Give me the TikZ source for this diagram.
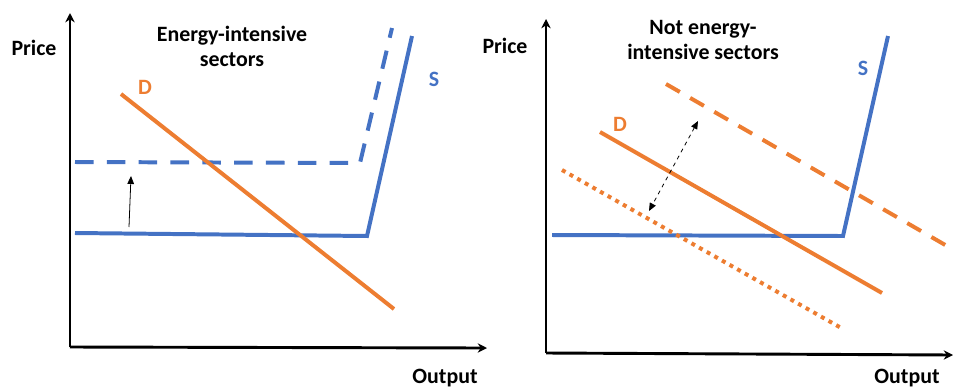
\documentclass[tikz,border=0pt]{standalone}
\usepackage{fontspec}
\setmainfont{Carlito}
\usetikzlibrary{arrows.meta,positioning}
\definecolor{SB}{RGB}{68,114,196}
\definecolor{DO}{RGB}{237,125,49}
\tikzset{
  % axes
  axis/.style={draw=black, line width=2.2pt, -{Stealth[length=7pt,width=7pt]}},
  % curves
  supply/.style={draw=SB, line width=3pt, line join=miter},
  supplyup/.style={supply, dash pattern=on 14pt off 10pt},
  demand/.style={draw=DO, line width=3pt},
  demandup/.style={demand, dash pattern=on 12pt off 9pt},
  demanddown/.style={demand, dash pattern=on 3pt off 3.6pt},
  % shift arrows
  moveup/.style={draw=black, line width=0.6pt, -{Triangle[length=6pt,width=5pt]}},
  moveboth/.style={moveup, dashed, {Triangle[length=6pt,width=5pt]}-{Triangle[length=6pt,width=5pt]}},
  % labels
  lbl/.style={font=\fontsize{16.5}{19}\selectfont\bfseries, align=center, inner sep=0pt},
  slbl/.style={lbl, text=SB},
  dlbl/.style={lbl, text=DO},
}
\begin{document}
\begin{tikzpicture}[x=0.0265cm, y=-0.0265cm]
\useasboundingbox (0,0) rectangle (953,389);

% ── Left panel: energy-intensive sectors ─────────────────────────────────────
\coordinate (lO) at (70,347);
\coordinate (lY) at (70,13);
\coordinate (lX) at (487,348);
\draw[axis] (lO) -- (lY);
\draw[axis] (lO) -- (lX);

\node[lbl] (lP) at (34,48) {Price};
\node[lbl] (lQ) at (445,378) {Output};
\node[lbl] (lT) at (232,46) {Energy-intensive\\sectors};

\coordinate (lS0) at (75,233);
\coordinate (lS1) at (367,236);
\coordinate (lS2) at (412,36);
\coordinate (lU0) at (75,162);
\coordinate (lU1) at (360,163);
\coordinate (lU2) at (392,28);
\coordinate (lD0) at (121,94);
\coordinate (lD1) at (394,309);

\draw[supplyup] (lU0) -- (lU1) -- (lU2);
\draw[supply] (lS0) -- (lS1) -- (lS2);
\draw[demand] (lD0) -- (lD1);

\node[slbl] (lSl) at (434,79) {S};
\node[dlbl] (lDl) at (145,87) {D};

\coordinate (lA0) at (129,227);
\coordinate (lA1) at (131,176);
\draw[moveup] (lA0) -- (lA1);

% ── Right panel: not energy-intensive sectors ────────────────────────────────
\coordinate (rO) at (546,353);
\coordinate (rY) at (546,19);
\coordinate (rX) at (953,355);
\draw[axis] (rO) -- (rY);
\draw[axis] (rO) -- (rX);

\node[lbl] (rP) at (505,46) {Price};
\node[lbl] (rQ) at (907,378) {Output};
\node[lbl] (rT) at (703,40) {Not energy-\\intensive sectors};

\coordinate (rS0) at (552,235);
\coordinate (rS1) at (843,236);
\coordinate (rS2) at (888,36);
\coordinate (rD0) at (600,132);
\coordinate (rD1) at (882,293);
\coordinate (rU0) at (666,84);
\coordinate (rU1) at (947,246);
\coordinate (rL0) at (562,170);
\coordinate (rL1) at (843,329);

\draw[supply] (rS0) -- (rS1) -- (rS2);
\draw[demandup] (rU0) -- (rU1);
\draw[demanddown] (rL0) -- (rL1);
\draw[demand] (rD0) -- (rD1);

\node[slbl] (rSl) at (863,68) {S};
\node[dlbl] (rDl) at (620,124) {D};

\coordinate (rA0) at (698,121);
\coordinate (rA1) at (649,211);
\draw[moveboth] (rA0) -- (rA1);

\end{tikzpicture}
\end{document}
